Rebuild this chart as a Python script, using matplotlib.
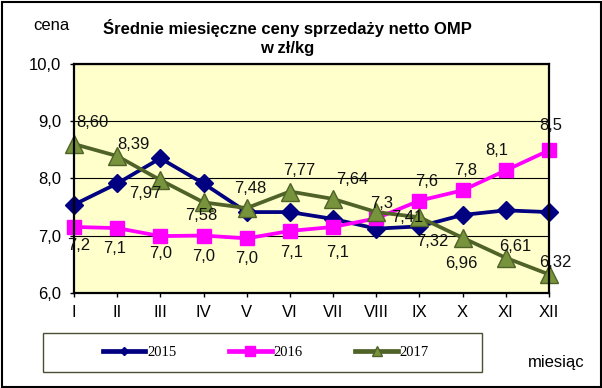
import matplotlib
matplotlib.use("Agg")
import matplotlib.pyplot as plt
from matplotlib.lines import Line2D
from matplotlib.patches import Rectangle

months = ["I", "II", "III", "IV", "V", "VI", "VII", "VIII", "IX", "X", "XI", "XII"]
s2015 = [7.54, 7.91, 8.35, 7.91, 7.41, 7.41, 7.29, 7.12, 7.16, 7.36, 7.44, 7.41]
s2016 = [7.15, 7.13, 6.99, 7.00, 6.95, 7.08, 7.15, 7.30, 7.61, 7.79, 8.14, 8.49]
s2017 = [8.60, 8.39, 7.97, 7.58, 7.48, 7.77, 7.64, 7.41, 7.32, 6.96, 6.61, 6.32]
lab2016 = ["7,2", "7,1", "7,0", "7,0", "7,0", "7,1", "7,1", "7,3", "7,6", "7,8", "8,1", "8,5"]
lab2017 = ["8,60", "8,39", "7,97", "7,58", "7,48", "7,77", "7,64", "7,41", "7,32", "6,96", "6,61", "6,32"]
yticks = [6.0, 7.0, 8.0, 9.0, 10.0]
ytick_labels = ["6,0", "7,0", "8,0", "9,0", "10,0"]

# label offsets in pixels (dx, dy upward)
off2016 = [(5, -19), (-3, -20), (0, -17), (0, -21), (0, -20), (2, -22), (5, -26),
           (5, 15), (7, 19), (3, 20), (-9, 20), (2, 25)]
off2017 = [(18, 22), (16, 12), (-15, -13), (-2, -13), (4, 20), (9, 21), (19, 19),
           (31, -5), (13, -24), (-1, -26), (9, 11), (6, 12)]

W, H = 602, 388
fig = plt.figure(figsize=(W / 100, H / 100), dpi=100)
FONT = "Liberation Sans"
FS = 12

ax = fig.add_axes([74 / W, (H - 292.7) / H, 475 / W, (292.7 - 64) / H])
ax.set_facecolor("#FFFFCC")
x = list(range(len(months)))

ax.plot(x, s2015, color="#000080", lw=2.7, marker="D", ms=9, mfc="#000080", mec="#000080", zorder=3, clip_on=False)
ax.plot(x, s2016, color="#FF00FF", lw=2.7, marker="s", ms=9.5, mfc="#FF00FF", mec="#FF00FF", zorder=4, clip_on=False)
ax.plot(x, s2017, color="#4F6228", lw=2.7, marker="^", ms=13, mfc="#77933C", mec="#4F6228", zorder=5, clip_on=False)

ax.set_xlim(0, 11)
ax.set_ylim(6, 10)
ax.set_yticks(yticks)
ax.set_yticklabels(ytick_labels, fontsize=FS, family=FONT)
ax.set_xticks(x)
ax.set_xticklabels(months, fontsize=FS, family=FONT)
ax.tick_params(axis="both", direction="out", length=3, width=1, pad=6, colors="black")
ax.grid(axis="y", color="black", lw=0.8)
ax.set_axisbelow(True)
for sp in ax.spines.values():
    sp.set_linewidth(1.6)
    sp.set_color("black")
    sp.set_zorder(6)

for i in x:
    dx, dy = off2016[i]
    ax.annotate(lab2016[i], (i, s2016[i]), xytext=(dx * 0.72, dy * 0.72), textcoords="offset points",
                ha="center", va="center", fontsize=FS, family=FONT, color="#111111", zorder=7,
                annotation_clip=False)
    dx, dy = off2017[i]
    ax.annotate(lab2017[i], (i, s2017[i]), xytext=(dx * 0.72, dy * 0.72), textcoords="offset points",
                ha="center", va="center", fontsize=FS, family=FONT, color="#111111", zorder=7,
                annotation_clip=False)

fig.text(287 / W, 1 - 28 / H, "Średnie miesięczne ceny sprzedaży netto OMP", ha="center", va="center",
         fontsize=12, fontweight="bold", family=FONT)
fig.text(287 / W, 1 - 49 / H, "w zł/kg", ha="center", va="center",
         fontsize=12, fontweight="bold", family=FONT)
fig.text(51 / W, 1 - 25 / H, "cena", ha="center", va="center", fontsize=FS, family=FONT)
fig.text(556 / W, 1 - 362 / H, "miesiąc", ha="center", va="center", fontsize=FS, family=FONT)

# legend frame
fig.add_artist(Rectangle((43 / W, 1 - 372 / H), (482 - 43) / W, (372 - 333) / H, transform=fig.transFigure,
                         fill=False, edgecolor="#4D4D33", lw=1.0))
handles = [
    Line2D([], [], color="#000080", lw=3.4, marker="D", ms=4.5, mfc="#000080", mec="#000080"),
    Line2D([], [], color="#FF00FF", lw=3.4, marker="s", ms=7.5, mfc="#FF00FF", mec="#FF00FF"),
    Line2D([], [], color="#4F6228", lw=3.4, marker="^", ms=6.5, mfc="#77933C", mec="#4F6228"),
]
fig.legend(handles, ["2015", "2016", "2017"], loc="center", bbox_to_anchor=(266 / W, 1 - 352 / H),
           ncol=3, frameon=False, handlelength=2.9, handletextpad=0.15, columnspacing=3.6,
           prop={"family": "Liberation Serif", "size": 10.5})

# outer border
fig.add_artist(Rectangle((1.5 / W, 1.5 / H), (W - 3) / W, (H - 3) / H, transform=fig.transFigure,
                         fill=False, edgecolor="black", lw=1.5))

fig.savefig("out.png", dpi=100)
